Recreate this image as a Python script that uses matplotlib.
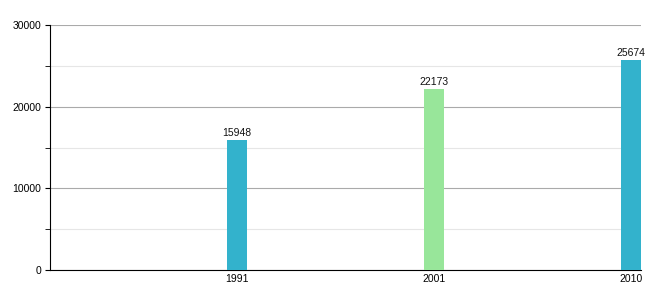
import matplotlib
matplotlib.use("Agg")
import matplotlib.pyplot as plt

years = ["1991", "2001", "2010"]
values = [15948, 22173, 25674]
colors = ["#33b2cc", "#98e69a", "#33b2cc"]

plt.rcParams['font.family'] = ['Liberation Sans', 'DejaVu Sans']

fig = plt.figure(figsize=(6.6, 3.0), dpi=100)
ax = fig.add_axes([50/660, 30/300, 591/660, 245/300])

pos = [1, 2, 3]
ax.bar(pos, values, width=20/197, color=colors, zorder=3)
for p, v in zip(pos, values):
    ax.text(p, v + 250, str(v), ha="center", va="bottom", fontsize=7.5, color="#111111")

x0 = 1 - 187/197
ax.set_xlim(x0, x0 + 591/197)
ax.set_ylim(0, 30000)
ax.set_xticks(pos)
ax.set_xticklabels(years)
ax.set_yticks([0, 10000, 20000, 30000])
ax.set_yticks([5000, 15000, 25000], minor=True)
ax.tick_params(axis="x", length=0, labelsize=7.5, pad=3)
ax.tick_params(axis="y", which="both", length=3.5, labelsize=7.5, pad=3, direction="out")
ax.grid(axis="y", which="major", color="#aaaaaa", linewidth=0.8, zorder=0)
ax.grid(axis="y", which="minor", color="#e6e6e6", linewidth=0.8, zorder=0)
for s in ["top", "right"]:
    ax.spines[s].set_visible(False)
ax.spines["left"].set_color("#000000")
ax.spines["bottom"].set_color("#000000")
ax.spines["left"].set_linewidth(0.8)
ax.spines["bottom"].set_linewidth(0.8)

fig.savefig("out.png", dpi=100)
